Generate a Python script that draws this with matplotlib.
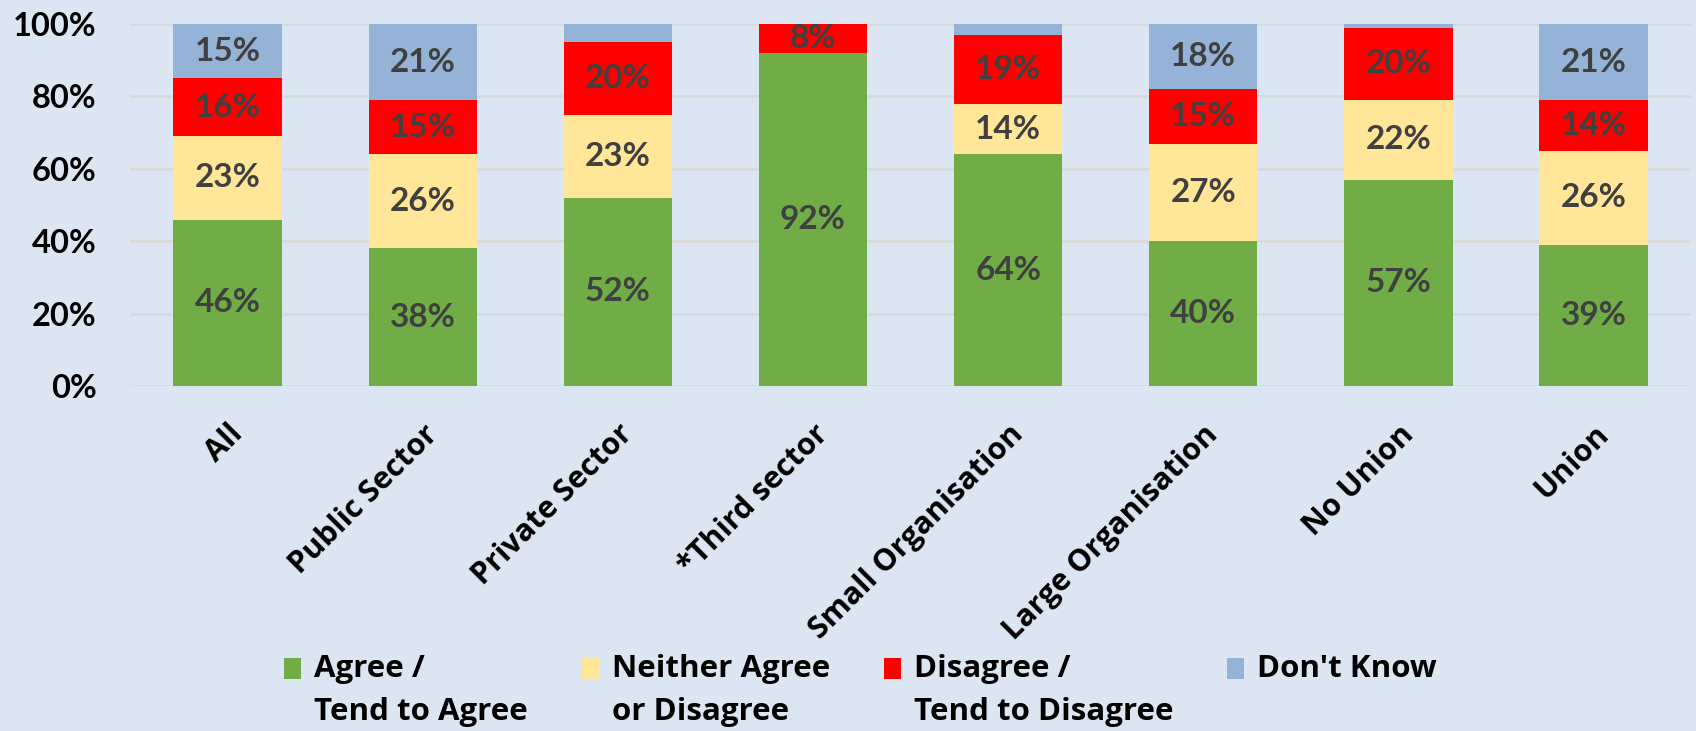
import matplotlib
matplotlib.use("Agg")
import matplotlib.pyplot as plt
import numpy as np

categories = ["All", "Public Sector", "Private Sector", "*Third sector",
              "Small Organisation", "Large Organisation", "No Union", "Union"]
series_names = ["Agree /\nTend to Agree", "Neither Agree\nor Disagree",
                "Disagree /\nTend to Disagree", "Don't Know\n "]
agree    = [46, 38, 52, 92, 64, 40, 57, 39]
neither  = [23, 26, 23, 0, 14, 27, 22, 26]
disagree = [16, 15, 20, 8, 19, 15, 20, 14]
dont_know = [15, 21, 5, 0, 3, 18, 1, 21]
y_ticks = [0, 20, 40, 60, 80, 100]

colors = ["#70AD47", "#FFE699", "#FF0000", "#95B3D7"]
bg = "#DCE6F2"
num_font = ["Lato", "DejaVu Sans"]
text_font = ["Open Sans", "DejaVu Sans"]
plt.rcParams["font.family"] = num_font
plt.rcParams["font.weight"] = "bold"

fig = plt.figure(figsize=(16.96, 7.31), dpi=100, facecolor=bg)
ax = fig.add_axes([0.0767, 0.472, 0.9204, 0.495], facecolor=bg)

x = np.arange(len(categories))
bottom = np.zeros(len(categories))
handles = []
for vals, col, name in zip([agree, neither, disagree, dont_know], colors, series_names):
    vals = np.array(vals, dtype=float)
    bars = ax.bar(x, vals, 0.555, bottom=bottom, color=col, label=name, zorder=3)
    handles.append(bars)
    for xi, v, b in zip(x, vals, bottom):
        if v >= 8:
            ax.text(xi, b + v / 2, f"{int(v)}%", ha="center", va="center",
                    fontsize=24, fontweight="bold", color="#404040", zorder=4)
    bottom += vals

ax.set_xlim(-0.5, len(categories) - 0.5)
ax.set_ylim(0, 100)
ax.set_yticks(y_ticks)
ax.set_yticklabels([f"{t}%" for t in y_ticks], fontsize=23.5, fontweight="bold")
ax.set_xticks(x)
ax.set_xticklabels(categories, rotation=45, ha="right", va="top",
                   rotation_mode="anchor", fontsize=22, fontweight="bold",
                   family=text_font)
ax.tick_params(axis="y", length=0, pad=24)
ax.tick_params(axis="x", length=0, pad=24)
for s in ax.spines.values():
    s.set_visible(False)
ax.grid(axis="y", color="#D9D9D9", linewidth=2, zorder=0)
ax.set_axisbelow(True)

leg_fs = 22.5
leg_px = leg_fs * 100 / 72
leg = fig.legend(handles=handles, labels=series_names, loc="center left",
                 bbox_to_anchor=(284 / 1696, 0.0554), ncol=4, frameon=False,
                 handlelength=17 / leg_px, handleheight=21 / leg_px,
                 handletextpad=13 / leg_px, columnspacing=1.72,
                 borderpad=0, borderaxespad=0,
                 prop={"family": text_font, "weight": "bold", "size": leg_fs})
for t in leg.get_texts():
    t.set_linespacing(1.55)
# lift each colour square up to the first line of its label
fig.canvas.draw()
for t, p in zip(leg.get_texts(), leg.get_patches()):
    ext = t.get_window_extent()
    p.set_y(p.get_y() + (ext.height / 2 - 0.45 * leg_px) * 72 / 100)

fig.savefig("out.png", dpi=100, facecolor=bg)
